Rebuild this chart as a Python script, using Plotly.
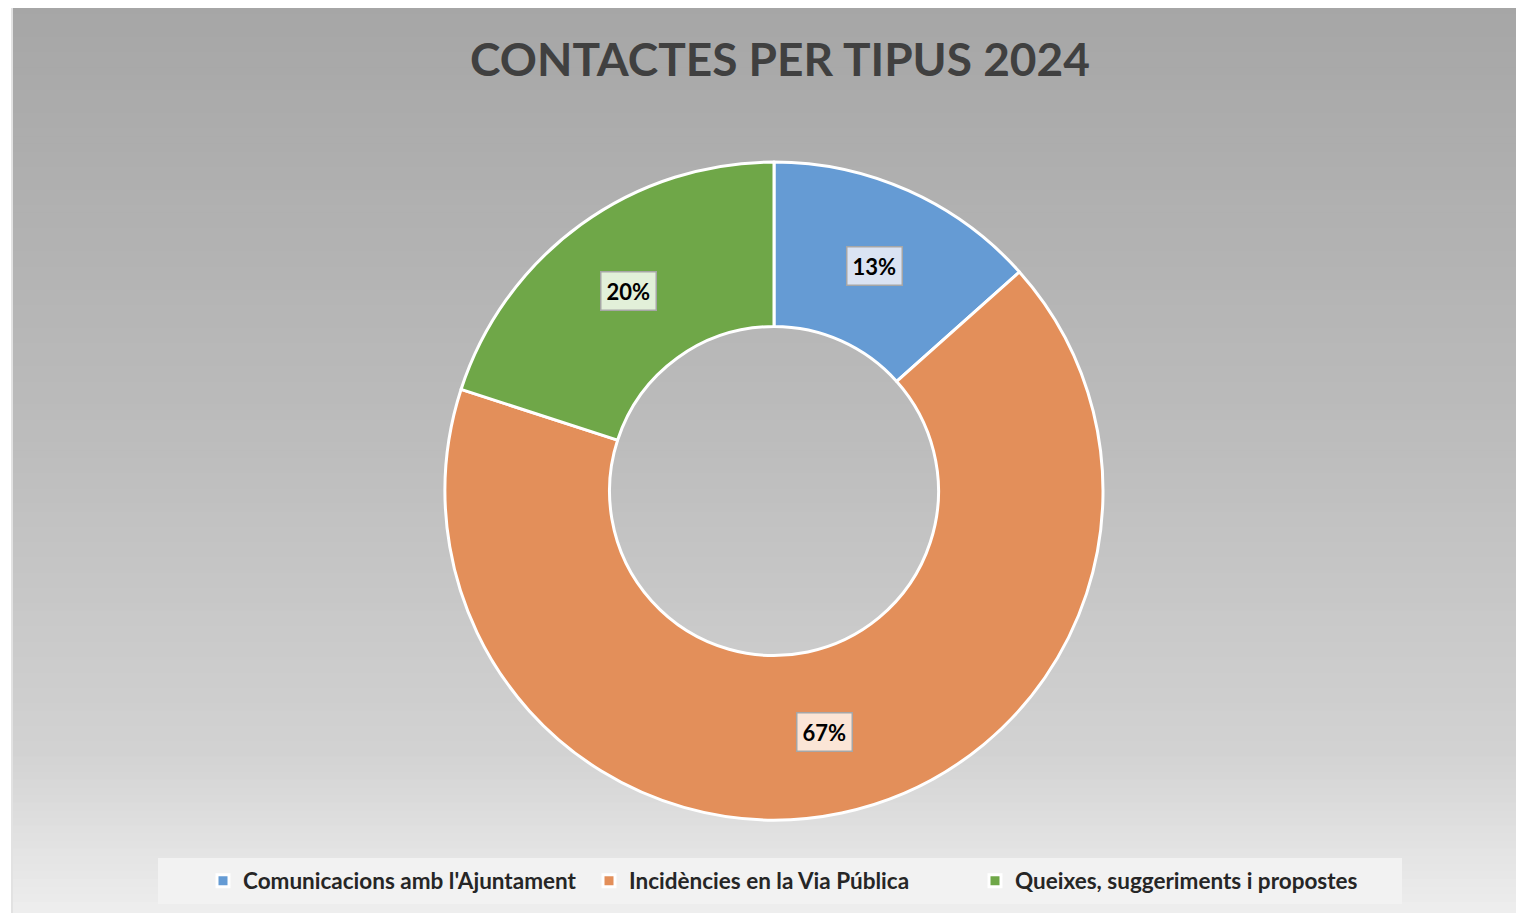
import math
import plotly.graph_objects as go

# ---- data ----
categories = ["Comunicacions amb l'Ajuntament", "Incidències en la Via Pública", "Queixes, suggeriments i propostes"]
shares = [13.4, 66.6, 20.0]
title_text = "CONTACTES PER TIPUS 2024"

# ---- style ----
slice_colors = ["#659bd4", "#e38f5a", "#6fa748"]
label_fills = ["#dae3f3", "#fbe5d6", "#e2f0d9"]
OX, OY = 8, 8               # page (body) offset of the plot in the screenshot
W, H = 1524 - OX, 913 - OY
cx, cy, R = 774 - OX, 491 - OY, 329   # pixel centre / radius of donut (figure coords)
hole = 0.5
font_family = "Lato, 'Open Sans', sans-serif"


def px_x(x):
    return (x - OX) / W


def px_y(y):
    return 1 - (y - OY) / H


fig = go.Figure()
fig.add_trace(go.Pie(
    labels=categories, values=shares, sort=False, direction="clockwise", rotation=0,
    hole=hole, textinfo="none", hoverinfo="label+percent",
    marker=dict(colors=slice_colors, line=dict(color="white", width=3)),
    domain=dict(x=[(cx - R) / W, (cx + R) / W], y=[(H - cy - R) / H, (H - cy + R) / H]),
))

# background gradient (chart area)
shapes = []
x_left, y_top, y_bot = 13, 6, 925
stops = [(6, 166), (450, 189), (750, 210), (925, 240)]


def grey_at(y):
    for (ya, ca), (yb, cb) in zip(stops, stops[1:]):
        if ya <= y <= yb:
            return ca + (cb - ca) * (y - ya) / (yb - ya)
    return stops[-1][1]


n = 120
for i in range(n):
    ya = y_top + (y_bot - y_top) * i / n
    yb = y_top + (y_bot - y_top) * (i + 1) / n
    g = int(round(grey_at((ya + yb) / 2)))
    shapes.append(dict(type="rect", xref="paper", yref="paper", layer="below",
                       x0=px_x(x_left), x1=px_x(1522), y0=px_y(yb + 1.5), y1=px_y(ya),
                       fillcolor=f"rgb({g},{g},{g})", line=dict(width=0)))
# border of chart area
shapes.append(dict(type="rect", xref="paper", yref="paper", layer="below",
                   x0=px_x(x_left - 1), x1=px_x(1522.5), y0=-0.01, y1=px_y(y_top - 1),
                   fillcolor="rgba(0,0,0,0)", line=dict(color="#d9d9d9", width=1.5)))
# legend box
shapes.append(dict(type="rect", xref="paper", yref="paper", layer="below",
                   x0=px_x(158), x1=px_x(1402), y0=px_y(904), y1=px_y(858),
                   fillcolor="#f2f2f2", line=dict(width=0)))

# percentage labels in boxes at the middle of each ring segment
annotations = []
total = sum(shares)
cum = 0.0
r_mid = R * (1 + hole) / 2
for v, fillc in zip(shares, label_fills):
    mid = (cum + v / 2) / total * 2 * math.pi
    cum += v
    px = cx + r_mid * math.sin(mid)
    py = cy - r_mid * math.cos(mid)
    annotations.append(dict(
        x=px / W, y=1 - py / H, xref="paper", yref="paper", showarrow=False,
        xanchor="center", yanchor="middle",
        text=f"<b>{round(v / total * 100)}%</b>",
        font=dict(family=font_family, size=22, color="#000000"),
        bgcolor=fillc, bordercolor="#a6a6a6", borderwidth=1.5, borderpad=5,
    ))

fig.update_layout(
    width=W, height=H,
    margin=dict(l=0, r=0, t=0, b=0),
    paper_bgcolor="white",
    title=dict(text=f"<b>{title_text}</b>", x=px_x(780), xanchor="center",
               y=px_y(60), yanchor="middle",
               font=dict(family=font_family, size=46, color="#404040")),
    showlegend=True,
    legend=dict(orientation="h", x=px_x(782), xanchor="center", y=px_y(881), yanchor="middle",
                bgcolor="rgba(0,0,0,0)", entrywidth=341, entrywidthmode="pixels",
                font=dict(family=font_family, size=22.5, color="#262626", weight="bold"),
                itemclick=False),
    shapes=shapes,
    annotations=annotations,
)

fig.write_html("out.html")
